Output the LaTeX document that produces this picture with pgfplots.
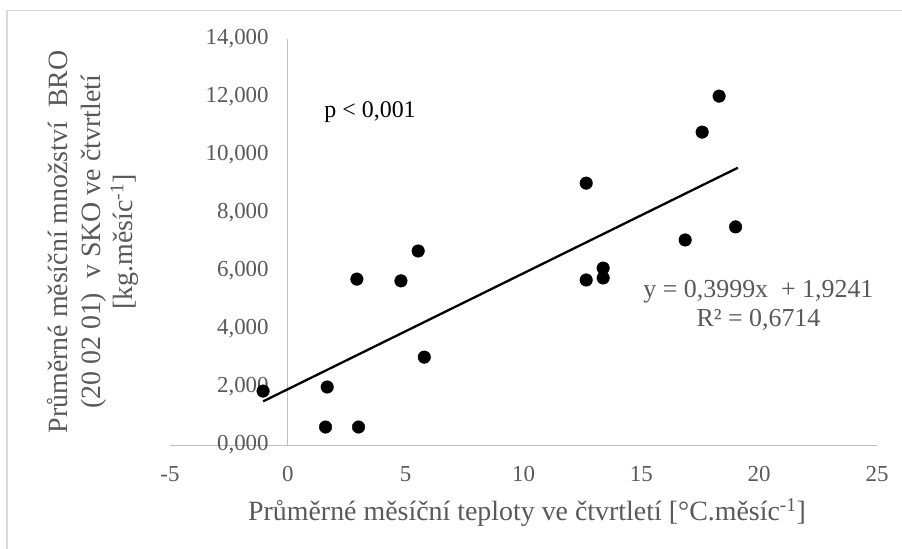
\documentclass[border=0pt]{standalone}
\usepackage{fontspec}
\setmainfont{Liberation Serif}
\usepackage{pgfplots}
\pgfplotsset{compat=1.18}
\definecolor{txtgray}{HTML}{595959}
\definecolor{axgray}{HTML}{BFBFBF}
\definecolor{framegray}{HTML}{D9D9D9}
\begin{document}
\begin{tikzpicture}
\useasboundingbox (0,0) rectangle (902bp,549bp);
\fill[white] (0,0) rectangle (902bp,549bp);
\draw[framegray, line width=1.2bp] (7bp,-5bp) -- (7bp,538.5bp) -- (910bp,538.5bp);
\begin{axis}[
  at={(170bp,104bp)}, anchor=south west,
  scale only axis, width=707bp, height=406bp,
  xmin=-5, xmax=25, ymin=0, ymax=14,
  axis x line=bottom, axis y line=middle,
  axis line style={-, draw=axgray, line width=1bp},
  major tick length=0pt,
  xtick={-5,0,5,10,15,20,25},
  ytick={0,2,4,6,8,10,12,14},
  hide obscured x ticks=false, hide obscured y ticks=false,
  /pgf/number format/assume math mode=true,
  yticklabel={\pgfmathprintnumber[fixed, fixed zerofill, precision=3, use comma]{\tick}},
  xticklabel={\pgfmathprintnumber[fixed, precision=0]{\tick}},
  ticklabel style={font=\fontsize{23}{27}\selectfont, text=txtgray},
  yticklabel style={anchor=east, inner sep=0pt, xshift=-19bp},
  xticklabel style={anchor=north, inner sep=0pt, yshift=-21bp},
  xlabel={Průměrné měsíční teploty ve čtvrtletí {[}°C.měsíc\textsuperscript{-1}{]}},
  xlabel style={at={(axis description cs:0.505,-0.185)}, anchor=base, font=\fontsize{28}{32}\selectfont, text=txtgray},
  ylabel={Průměrné měsíční množství\ \ BRO\\(20 02 01)\ \ v SKO ve čtvrtletí\\{}{[}kg.měsíc\textsuperscript{-1}{]}},
  ylabel style={at={(axis description cs:-0.109,0.5)}, anchor=center, align=center, rotate=90, font=\fontsize{28}{32.5}\selectfont, text=txtgray},
  clip=false,
]
\addplot[only marks, mark=*, mark size=6.3bp, black] coordinates {
  (-1.05,1.86) (1.67,2.00) (1.60,0.62) (3.00,0.62)
  (2.93,5.72) (4.80,5.66) (5.53,6.69) (5.79,3.03)
  (12.66,9.03) (12.66,5.69) (13.38,6.10) (13.38,5.76)
  (16.86,7.07) (17.58,10.79) (18.30,12.03) (19.00,7.52)
};
\addplot[black, line width=2.3bp] coordinates {(-1.05,1.504) (19.1,9.562)};
\node[anchor=base, font=\fontsize{26}{30}\selectfont, text=txtgray] at (axis cs:19.97,5.10) {y = 0,3999x\ \ + 1,9241};
\node[anchor=base, font=\fontsize{26}{30}\selectfont, text=txtgray] at (axis cs:19.97,4.07) {R² = 0,6714};
\node[anchor=base, font=\fontsize{24}{28}\selectfont, text=black] at (axis cs:3.49,11.28) {p < 0,001};
\end{axis}
\end{tikzpicture}
\end{document}
